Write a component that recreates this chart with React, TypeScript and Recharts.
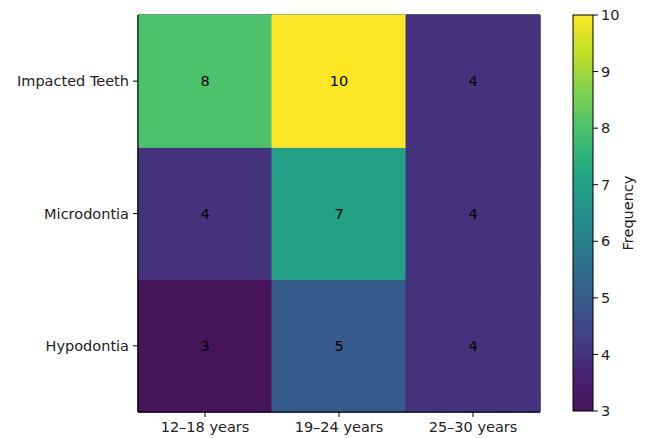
import React from 'react';
import { BarChart, Bar, XAxis, YAxis, Cell, LabelList, ReferenceArea } from 'recharts';

const ageGroups = ['12–18 years', '19–24 years', '25–30 years'];
// rows from bottom to top
const anomalies = ['Hypodontia', 'Microdontia', 'Impacted Teeth'];
const hypodontia = [3, 5, 4];
const microdontia = [4, 7, 4];
const impactedTeeth = [8, 10, 4];
const colorTicks = [3, 4, 5, 6, 7, 8, 9, 10];

const rowValues = [hypodontia, microdontia, impactedTeeth];
const vMin = 3;
const vMax = 10;

const viridisStops = [
  '#461459', '#482475', '#414487', '#355f8d', '#2a788e', '#21918c',
  '#22a884', '#44bf70', '#7ad151', '#bddf26', '#fde725',
];

function hex(c: string) {
  return [1, 3, 5].map((i) => parseInt(c.slice(i, i + 2), 16));
}

function viridis(v: number) {
  const t = Math.max(0, Math.min(1, (v - vMin) / (vMax - vMin))) * 10;
  const i = Math.min(9, Math.floor(t));
  const f = t - i;
  const a = hex(viridisStops[i]);
  const b = hex(viridisStops[i + 1]);
  const rgb = a.map((x, k) => Math.round(x + (b[k] - x) * f));
  return `rgb(${rgb.join(',')})`;
}

const data = ageGroups.map((name, j) => {
  const d: any = { name };
  rowValues.forEach((vals, r) => {
    d[`u${r}`] = 1;
    d[`v${r}`] = vals[j];
  });
  return d;
});

const font = '"DejaVu Sans", sans-serif';
const textColor = '#222';
const fs = 14.5;

function ColorBar() {
  const top = 7;
  const h = 396;
  const x = 8;
  const w = 20;
  return (
    <svg width={80} height={434} style={{ position: 'absolute', left: 557, top: 0, fontFamily: font }}>
      <defs>
        <linearGradient id="viridis" x1="0" y1="1" x2="0" y2="0">
          {viridisStops.map((c, i) => (
            <stop key={i} offset={`${i * 10}%`} stopColor={c} />
          ))}
        </linearGradient>
      </defs>
      <rect x={x} y={top} width={w} height={h} fill="url(#viridis)" stroke="#000" strokeWidth={1} />
      {colorTicks.map((t) => {
        const y = top + h - ((t - vMin) / (vMax - vMin)) * h;
        return (
          <g key={t}>
            <line x1={x + w} x2={x + w + 5} y1={y} y2={y} stroke="#000" />
            <text x={x + w + 8} y={y} dy="0.35em" fontSize={fs} fill={textColor}>{t}</text>
          </g>
        );
      })}
      <text
        transform={`translate(68, ${top + h / 2}) rotate(-90)`}
        textAnchor="middle"
        fontSize={fs}
        fill={textColor}
      >
        Frequency
      </text>
    </svg>
  );
}

export default function App() {
  return (
    <div style={{ position: 'relative', width: 630, height: 434 }}>
      <BarChart
        width={540}
        height={434}
        data={data}
        margin={{ top: 7, right: 8, left: 0, bottom: 0 }}
        barCategoryGap={0}
        barGap={0}
        style={{ fontFamily: font }}
      >
        <XAxis
          dataKey="name"
          height={30}
          tickSize={5}
          tickMargin={5}
          axisLine={{ stroke: '#000' }}
          tickLine={{ stroke: '#000' }}
          tick={{ fill: textColor, fontSize: fs }}
        />
        <YAxis
          type="number"
          domain={[0, 3]}
          ticks={[0.5, 1.5, 2.5]}
          tickFormatter={(v: number) => anomalies[Math.floor(v)]}
          width={130}
          tickSize={5}
          tickMargin={4}
          axisLine={{ stroke: '#000' }}
          tickLine={{ stroke: '#000' }}
          tick={{ fill: textColor, fontSize: fs }}
        />
        {anomalies.map((a, r) => (
          <Bar key={a} dataKey={`u${r}`} stackId="grid" isAnimationActive={false}>
            {data.map((d, j) => (
              <Cell key={j} fill={viridis(d[`v${r}`])} stroke={viridis(d[`v${r}`])} strokeWidth={1} />
            ))}
            <LabelList dataKey={`v${r}`} position="center" fill="#000" fontSize={fs} />
          </Bar>
        ))}
        <ReferenceArea y1={0} y2={3} fill="none" stroke="#000" strokeWidth={1} ifOverflow="visible" />
      </BarChart>
      <ColorBar />
    </div>
  );
}
